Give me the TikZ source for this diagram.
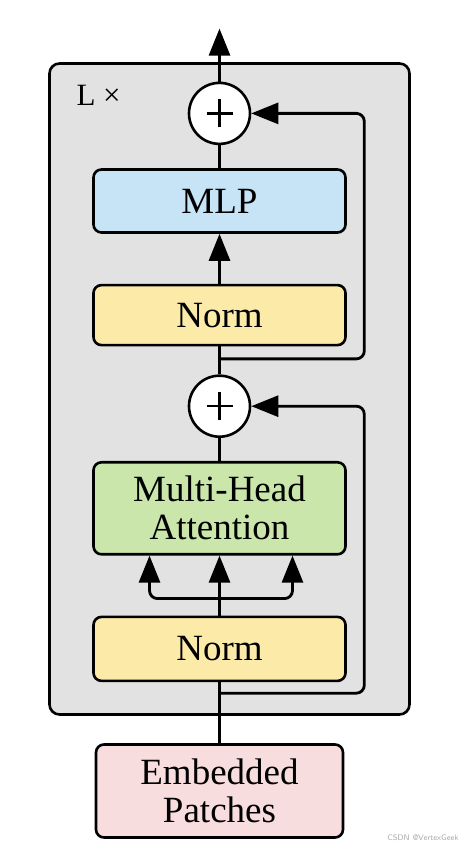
\documentclass[tikz,border=0pt]{standalone}
\usepackage{fontspec}
\setmainfont{Liberation Serif}
\usetikzlibrary{arrows.meta,positioning}

\definecolor{layergray}{RGB}{226,226,226}
\definecolor{mlpblue}{RGB}{198,228,245}
\definecolor{normyellow}{RGB}{252,234,168}
\definecolor{mhagreen}{RGB}{202,230,171}
\definecolor{embedpink}{RGB}{248,221,222}

\begin{document}
\begin{tikzpicture}[
  x=1pt, y=1pt,
  every node/.style={align=center},
  layerbox/.style={draw, line width=2.6pt, fill=layergray, rounded corners=10pt},
  blk/.style={draw, line width=2.6pt, rounded corners=8pt, minimum width=252pt, inner sep=2pt, font=\fontsize{37}{38}\selectfont},
  addop/.style={draw, line width=2.6pt, circle, fill=white, minimum size=61pt, inner sep=0pt,
    path picture={
      \draw[line width=2.6pt] ([xshift=-13pt]path picture bounding box.center) -- ([xshift=13pt]path picture bounding box.center);
      \draw[line width=2.6pt] ([yshift=-14pt]path picture bounding box.center) -- ([yshift=14pt]path picture bounding box.center);
    }},
  wire/.style={line width=2.8pt},
  arr/.style={wire, -{Triangle[length=27pt,width=21pt]}},
]
\useasboundingbox (0,0) rectangle (463,850);

\node[layerbox, minimum width=360pt, minimum height=651pt] (layer) at (229.5,461) {};
\node[anchor=west, font=\fontsize{31}{31}\selectfont] (reps) at (73,755) {L ×};

\node[blk, fill=embedpink, minimum width=247pt, minimum height=93pt] (embed) at (219.5,59) {Embedded\\Patches};
\node[blk, fill=normyellow, minimum height=64pt, above=61pt of embed] (normbot) {Norm};
\node[blk, fill=mhagreen, minimum height=92pt, above=60pt of normbot] (mha) {Multi-Head\\Attention};
\node[addop, above=23pt of mha] (plusbot) {};
\node[blk, fill=normyellow, minimum height=60pt, above=28pt of plusbot] (normtop) {Norm};
\node[blk, fill=mlpblue, minimum height=63pt, above=50pt of normtop] (mlp) {MLP};
\node[addop, above=23pt of mlp] (plustop) {};

\coordinate (res1) at ([yshift=50pt]embed.north);
\coordinate (fork) at ([yshift=-43pt]mha.south);
\coordinate (res2) at ([yshift=-12.5pt]normtop.south);
\coordinate (out) at ([yshift=53pt]plustop.north);

% attention sub-block
\draw[wire] (embed) -- (normbot);
\draw[arr, rounded corners=8pt] (res1) -| ([xshift=113pt]plusbot.east) -- (plusbot.east);
\draw[wire] (normbot) -- (fork);
\draw[arr] (fork) -- (mha.south);
\draw[arr, rounded corners=8pt] (fork) -| ([xshift=-70pt]mha.south);
\draw[arr, rounded corners=8pt] (fork) -| ([xshift=73pt]mha.south);
\draw[wire] (mha) -- (plusbot);

% mlp sub-block
\draw[wire] (plusbot) -- (normtop);
\draw[arr, rounded corners=8pt] (res2) -| ([xshift=113pt]plustop.east) -- (plustop.east);
\draw[arr] (normtop) -- (mlp);
\draw[wire] (mlp) -- (plustop);
\draw[arr] (plustop) -- (out);

\node[anchor=east, font=\sffamily\fontsize{8}{8}\selectfont, text=gray!70] (mark) at (462,12) {CSDN @VertexGeek};
\end{tikzpicture}
\end{document}
